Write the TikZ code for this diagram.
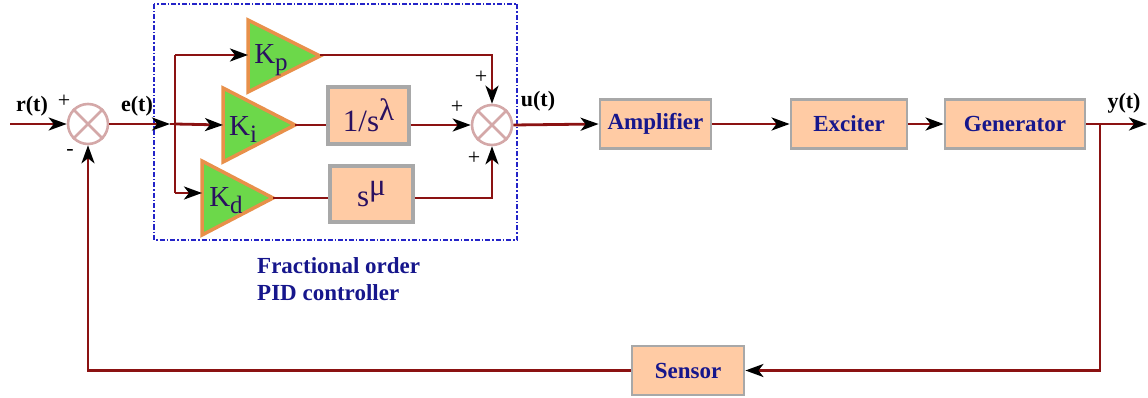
\documentclass[tikz,border=0pt]{standalone}
\usepackage{fontspec}
\setmainfont{Liberation Serif}
\usetikzlibrary{arrows.meta}
\definecolor{wire}{HTML}{8B1212}
\definecolor{navy}{HTML}{16168C}
\definecolor{kcol}{HTML}{2A1060}
\definecolor{peach}{HTML}{FFCBA4}
\definecolor{boxgray}{HTML}{A8A8A8}
\definecolor{trigreen}{HTML}{6CD84A}
\definecolor{triorange}{HTML}{E8904A}
\definecolor{sumpink}{HTML}{D4A8A8}
\definecolor{dashblue}{HTML}{2424C8}
\begin{document}
\begin{tikzpicture}[x=1pt,y=-1pt,
  wire/.style={draw=wire,line width=2.8pt},
  arr/.style={-{Stealth[black,length=18pt,width=13pt,inset=5pt]}},
  blk/.style={draw=boxgray,line width=2.8pt,fill=peach,minimum height=49pt,
    inner sep=0pt,text=navy,font=\fontsize{23}{27}\bfseries\selectfont},
  tfblk/.style={draw=boxgray,line width=3.8pt,fill=peach,inner sep=0pt,
    text=kcol,font=\fontsize{31}{34}\selectfont},
  tri/.style={draw=triorange,line width=3.5pt,fill=trigreen,line join=miter},
  klab/.style={text=kcol,inner sep=0pt,font=\fontsize{29}{32}\selectfont},
  sumc/.style={circle,draw=sumpink,line width=2.6pt,fill=white,minimum size=40pt,inner sep=0pt},
  sgn/.style={inner sep=0pt,font=\fontsize{22}{24}\selectfont},
  sig/.style={inner sep=0pt,font=\fontsize{22}{26}\bfseries\selectfont}
]
\useasboundingbox (0,0) rectangle (1148,398);

% controller frame
\draw[dashblue,line width=1.6pt,dash pattern=on 5pt off 2pt on 1.5pt off 2pt] (154,4) rectangle (517,240);

% summing junctions
\node[sumc] (s1) at (88,124) {};
\draw[sumpink,line width=2.8pt] (s1.north west) -- (s1.south east) (s1.north east) -- (s1.south west);
\node[sumc] (s2) at (492,125) {};
\draw[sumpink,line width=2.8pt] (s2.north west) -- (s2.south east) (s2.north east) -- (s2.south west);

% gains
\draw[tri] (248,20) -- (320,56) coordinate (kpo) -- (248,92) -- cycle;
\coordinate (kpi) at (248,55);
\node[klab] (kp) at (271,60) {K\raisebox{-7pt}{\fontsize{25}{28}\selectfont p}};
\draw[tri] (223,88) -- (295,125) coordinate (kio) -- (223,162) -- cycle;
\coordinate (kii) at (223,125);
\node[klab] (ki) at (243,130) {K\raisebox{-7pt}{\fontsize{25}{28}\selectfont i}};
\draw[tri] (202,161) -- (273,198) coordinate (kdo) -- (202,235) -- cycle;
\coordinate (kdi) at (202,193);
\node[klab] (kd) at (226,201) {K\raisebox{-7pt}{\fontsize{25}{28}\selectfont d}};

% fractional blocks
\node[tfblk,minimum width=81pt,minimum height=57pt] (lam) at (368.5,115.5) {1/s\raisebox{11pt}{λ}};
\node[tfblk,minimum width=83pt,minimum height=56pt] (mu) at (371.5,194) {s\raisebox{11pt}{μ}};

% plant blocks
\node[blk,minimum width=111pt] (amp) at (655.5,124) {Amplifier};
\node[blk,minimum width=116pt] (exc) at (849,124) {Exciter};
\node[blk,minimum width=140pt] (gen) at (1015,124) {Generator};
\node[blk,minimum width=112pt] (sen) at (688,370.5) {Sensor};

% coordinates
\coordinate (rin) at (10,124);
\coordinate (etip) at (170,124);
\coordinate (br) at (175,124);
\coordinate (yb) at (1100,124);
\coordinate (yout) at (1147,124);

% connectors
\draw[wire,arr] (rin) -- (s1.west);
\draw[wire,arr] (s1.east) -- (etip);
\draw[wire] (etip) -- (br);
\draw[wire] (br |- kpi) -- (br |- kdi);
\draw[wire,arr] (br |- kpi) -- (kpi);
\draw[wire,arr] (br) -- (kii);
\draw[wire,arr] (br |- kdi) -- (kdi);
\draw[wire,arr] (kpo |- kpi) -- (s2.north |- kpi) -- (s2.north);
\draw[wire] (kio) -- (kio -| lam.west);
\draw[wire,arr] (lam.east |- s2.west) -- (s2.west);
\draw[wire] (kdo) -- (kdo -| mu.west);
\draw[wire,arr] (mu.east |- kdo) -| (s2.south);
\draw[wire,arr] (s2.east) -- (amp.west);
\draw[wire,arr] (amp.east) -- (exc.west);
\draw[wire,arr] (exc.east) -- (gen.west);
\draw[wire,arr] (gen.east) -- (yout);
\draw[wire,arr] (yb) |- (sen.east);
\draw[wire,arr] (sen.west) -| (s1.south);

% signal labels
\node[sig] (rl) at (32,106) {r(t)};
\node[sig] (el) at (137,106) {e(t)};
\node[sig] (ul) at (538,101) {u(t)};
\node[sig] (yl) at (1124,103) {y(t)};

% signs
\node[sgn] (p1) at (64,101) {+};
\node[sgn] (m1) at (70,152) {-};
\node[sgn] (p2) at (481,77) {+};
\node[sgn] (p3) at (457,107) {+};
\node[sgn] (p4) at (474,158) {+};

% controller caption
\node[anchor=north west,align=left,inner sep=0pt,text=navy,
  font=\fontsize{23}{27}\bfseries\selectfont] (cap) at (257,257) {Fractional order\\PID controller};
\end{tikzpicture}
\end{document}
